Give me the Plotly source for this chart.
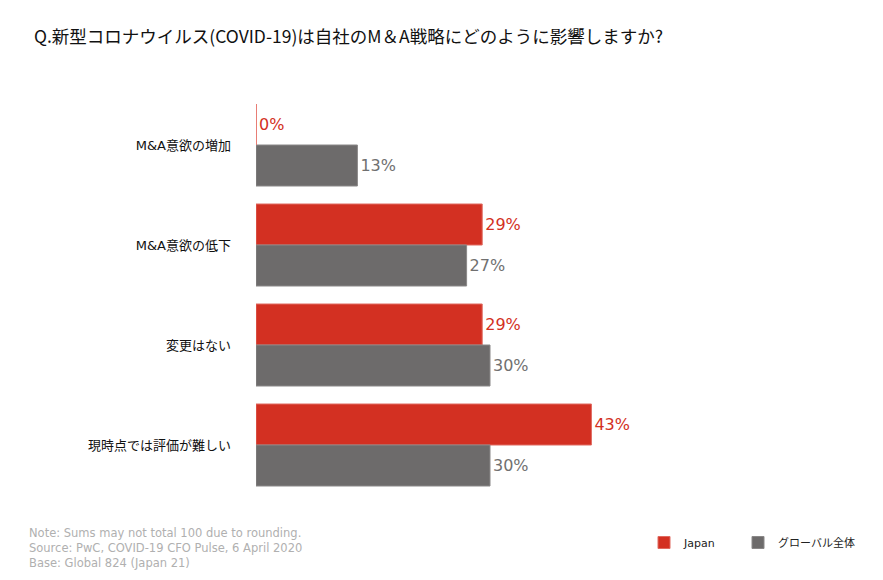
import plotly.graph_objects as go

categories = ["M&A意欲の増加", "M&A意欲の低下", "変更はない", "現時点では評価が難しい"]
japan = [0, 29, 29, 43]
global_all = [13, 27, 30, 30]
series_names = ["Japan", "グローバル全体"]
title_text = "Q.新型コロナウイルス(COVID-19)は自社のM＆A戦略にどのように影響しますか?"
notes = [
    "Note: Sums may not total 100 due to rounding.",
    "Source: PwC, COVID-19 CFO Pulse, 6 April 2020",
    "Base: Global 824 (Japan 21)",
]

RED = "#D33022"
GRAY = "#6D6B6B"
W, H = 883, 580
ML, MR, MT, MB = 256, 27, 95, 85
PW, PH = W - ML - MR, H - MT - MB
XMAX = PW / 7.8

def px_x(px):
    return (px - ML) / PW

def px_y(py):
    return (H - MB - py) / PH

fig = go.Figure()
fig.add_trace(go.Bar(
    y=categories, x=japan, orientation="h", name=series_names[0],
    marker=dict(color=RED, line=dict(color="#e06a60", width=1)),
    text=[f"{v}%" for v in japan], textposition="outside",
    textfont=dict(color=RED, size=16, family="DejaVu Sans"),
    cliponaxis=False, legend="legend",
))
fig.add_trace(go.Bar(
    y=categories, x=global_all, orientation="h", name=series_names[1],
    marker=dict(color=GRAY, line=dict(color="#8a8888", width=1)),
    text=[f"{v}%" for v in global_all], textposition="outside",
    textfont=dict(color="#707070", size=16, family="DejaVu Sans"),
    cliponaxis=False, legend="legend2",
))

bargap = 0.18
half = (1 - bargap) / 2
for i, v in enumerate(japan):
    if v == 0:
        fig.add_shape(type="line", xref="x", yref="y", x0=v, x1=v,
                      y0=i - half, y1=i, line=dict(color="#e8776f", width=1.5))

annotations = [dict(
    text=title_text, xref="paper", yref="paper", x=px_x(32), y=px_y(35),
    xanchor="left", yanchor="middle", showarrow=False,
    font=dict(size=17.5, color="#111", family="Noto Sans CJK JP"),
)]
for k, t in enumerate(notes):
    annotations.append(dict(
        text=t, xref="paper", yref="paper", x=px_x(27), y=px_y(533 + 15 * k),
        xanchor="left", yanchor="middle", showarrow=False,
        font=dict(size=11.5, color="#b0b0b0", family="DejaVu Sans"),
    ))

legend_common = dict(orientation="h", xref="container", yref="container",
                     xanchor="left", yanchor="top", itemwidth=30,
                     font=dict(size=11, color="#222", family="DejaVu Sans, Noto Sans CJK JP"))

fig.update_layout(
    width=W, height=H,
    margin=dict(l=ML, r=MR, t=MT, b=MB, pad=0),
    paper_bgcolor="white", plot_bgcolor="white",
    barmode="group", bargap=bargap, bargroupgap=0,
    font=dict(family="DejaVu Sans, Noto Sans CJK JP", size=12, color="#222"),
    xaxis=dict(range=[0, XMAX], visible=False),
    yaxis=dict(autorange="reversed", showgrid=False, zeroline=False,
               showline=False, ticks="", ticklabelstandoff=24,
               tickfont=dict(size=13, color="#111", family="DejaVu Sans, Noto Sans CJK JP")),
    showlegend=True,
    legend=dict(x=644 / W, y=1 - 528 / H, **legend_common),
    legend2=dict(x=738 / W, y=1 - 528 / H, **legend_common),
    annotations=annotations,
)

fig.write_html("out.html", post_script="document.body.style.margin='0';",
               config={"displayModeBar": False})
